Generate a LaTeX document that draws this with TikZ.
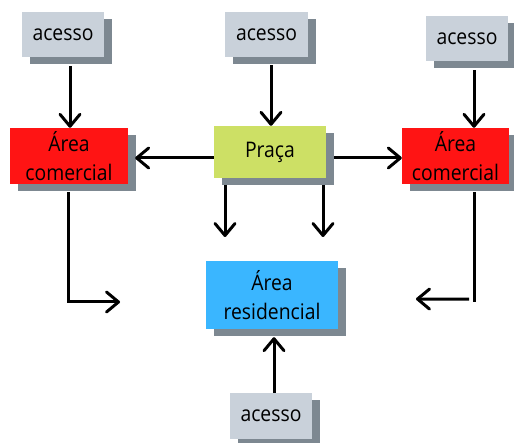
\documentclass[tikz,border=0pt]{standalone}
\usepackage{fontspec}
\setmainfont[FakeStretch=0.9]{Open Sans}
\usetikzlibrary{arrows.meta,shadows}
\definecolor{accessfill}{HTML}{C9D1DA}
\definecolor{boxshadow}{HTML}{7D8891}
\definecolor{commred}{HTML}{FF1414}
\definecolor{squaregreen}{HTML}{CDE065}
\definecolor{resblue}{HTML}{3AB6FF}
\tikzset{
  block/.style={rectangle, inner sep=0pt, align=center, text=black,
    font=\fontsize{21.5}{29}\selectfont,
    drop shadow={shadow xshift=7.5pt, shadow yshift=-7.5pt, fill=boxshadow, opacity=1}},
  accessbox/.style={block, fill=accessfill, minimum width=82pt, minimum height=45pt},
  commbox/.style={block, fill=commred, minimum height=56pt},
  arr/.style={line width=3pt, -{Straight Barb[length=12pt,width=20pt,round]}},
  plainline/.style={line width=3pt}
}
\begin{document}
\begin{tikzpicture}[x=1pt,y=-1pt]
\useasboundingbox[fill=white] (0,0) rectangle (514,443);

% access points
\node[accessbox] (acL) at (63,34.5) {acesso};
\node[accessbox, minimum width=83pt] (acM) at (266.5,34.5) {acesso};
\node[accessbox] (acR) at (467,38.5) {acesso};
\node[accessbox, minimum height=46pt] (acB) at (271,416) {acesso};

% zones
\node[commbox, minimum width=118pt] (comL) at (69,156) {Área\\comercial};
\node[block, fill=squaregreen, minimum width=112pt, minimum height=52pt] (praca) at (270,152) {Praça};
\node[commbox, minimum width=107pt] (comR) at (455.5,156) {Área\\comercial};
\node[block, fill=resblue, minimum width=132pt, minimum height=68pt] (res) at (272,295) {Área\\residencial};

% free ends of the open arrows
\coordinate (pL) at (225,237);
\coordinate (pR) at (323,237);
\coordinate (rL) at (120,302);
\coordinate (rR) at (416,299);

% connectors
\draw[arr] ([shift={(7,9)}]acL.south) -- ([xshift=1pt]comL.north);
\draw[arr] ([shift={(4.5,8)}]acM.south) -- ([xshift=1pt]praca.north);
\draw[arr] ([shift={(7,9)}]acR.south) -- ([xshift=18.5pt]comR.north);
\draw[arr] ([shift={(0,6)}]praca.west) -- ([shift={(7,2)}]comL.east);
\draw[arr] ([shift={(8,6)}]praca.east) -- ([shift={(0,2)}]comR.west);
\draw[arr] ([shift={(-45,7)}]praca.south) -- (pL);
\draw[arr] ([shift={(53,7)}]praca.south) -- (pR);
\draw[arr] ([shift={(-1,8)}]comL.south) |- (rL);
\draw[plainline] ([shift={(18.5,8)}]comR.south) -- ([shift={(18.5,118)}]comR.south);
\draw[arr] ([shift={(13.5,115)}]comR.south) -- (rR);
\draw[arr] ([xshift=3pt]acB.north) -- ([shift={(2,8)}]res.south);
\end{tikzpicture}
\end{document}
